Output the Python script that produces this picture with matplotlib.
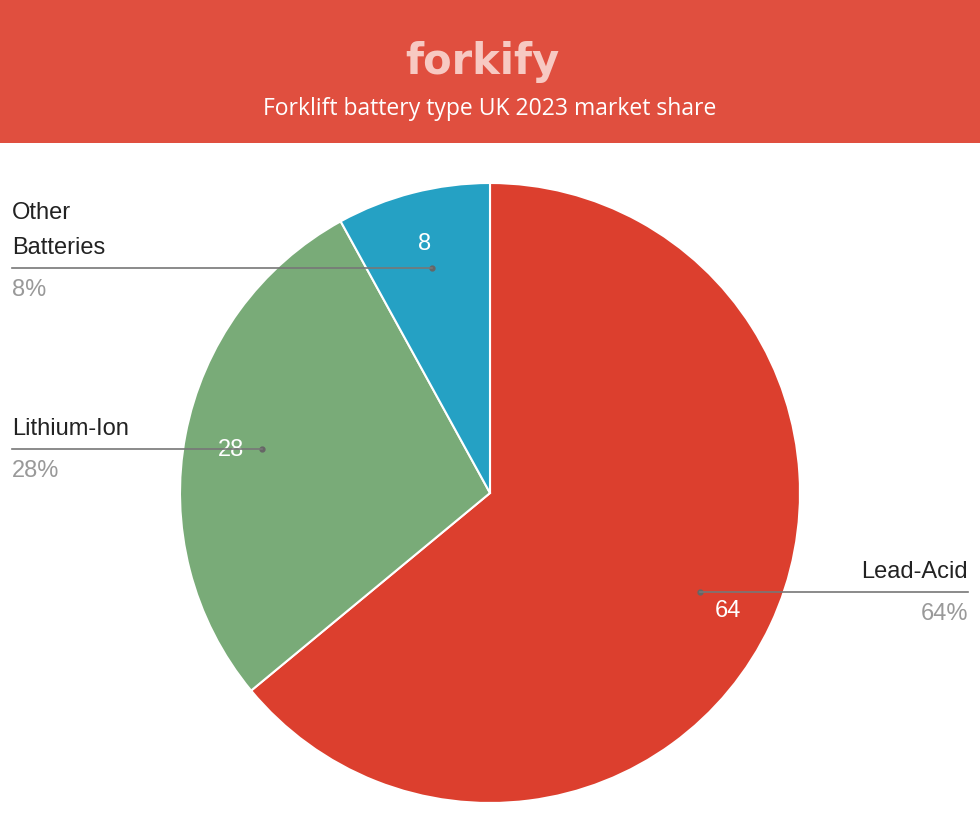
import numpy as np
import matplotlib.pyplot as plt

labels = ["Lead-Acid", "Lithium-Ion", "Other\nBatteries"]
values = [64, 28, 8]
colors = ["#DC3F2E", "#79AB78", "#25A1C4"]

W, H = 980, 819
fig = plt.figure(figsize=(W / 100, H / 100), dpi=100)
fig.patch.set_facecolor("white")

# header band
hdr = fig.add_axes([0, 1 - 143 / H, 1, 143 / H])
hdr.set_facecolor("#E04F3F")
hdr.set_xticks([]); hdr.set_yticks([])
for s in hdr.spines.values():
    s.set_visible(False)
fig.text(482 / W, 1 - 62 / H, "forkify", ha="center", va="center",
         fontsize=30, fontweight="bold", color="#F7C9C2", family="DejaVu Sans")
fig.text(490 / W, 1 - 109 / H, "Forklift battery type UK 2023 market share",
         ha="center", va="center", fontsize=16.5, color="white", family="Open Sans")

# pie: center (490, 493), radius 310 px
ax = fig.add_axes([180 / W, (H - 493 - 310) / H, 620 / W, 620 / H])
ax.pie(values, colors=colors, startangle=90, counterclock=False, radius=1,
       wedgeprops=dict(edgecolor="white", linewidth=1.5))
ax.set_xlim(-1, 1); ax.set_ylim(-1, 1)
ax.set_aspect("equal")
ax.axis("off")

total = sum(values)
start = 0.0
text_x = {0: 968, 1: 12, 2: 12}
for i, v in enumerate(values):
    mid = start + v / total * 360 / 2
    start += v / total * 360
    th = np.radians(mid)
    sx, sy = np.sin(th), np.cos(th)
    ax.text(0.85 * sx, 0.85 * sy - 0.02, str(v), ha="center", va="center",
            fontsize=17, color="white", family="Liberation Sans")
    dx, dy = 0.75 * sx, 0.75 * sy
    ax.plot(dx, dy, "o", color="#666666", ms=3.5)
    # leader line in pixel space
    px = 490 + dx * 310
    py = 493 - dy * 310
    tx = text_x[i]
    fig.add_artist(plt.Line2D([px / W, tx / W], [1 - py / H, 1 - py / H],
                              color="#777777", lw=1.2, transform=fig.transFigure))
    ha = "right" if i == 0 else "left"
    fig.text(tx / W, 1 - (py - 9) / H, labels[i], ha=ha, va="bottom",
             fontsize=17, color="#222222", family="Liberation Sans", linespacing=1.75)
    fig.text(tx / W, 1 - (py + 11) / H, f"{v}%", ha=ha, va="top",
             fontsize=17, color="#999999", family="Liberation Sans")

fig.savefig("out.png", dpi=100)
